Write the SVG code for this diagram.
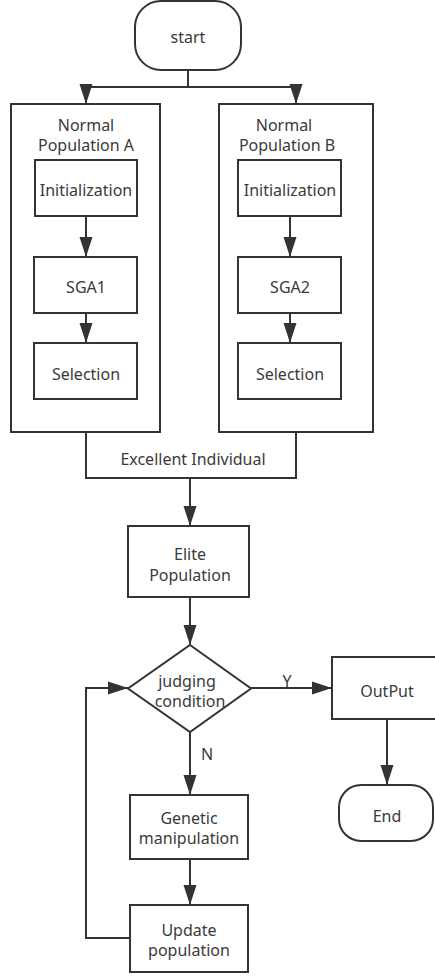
<svg xmlns="http://www.w3.org/2000/svg" width="435" height="978" viewBox="0 0 435 978">
<style>
.box{fill:#fff;stroke:#333;stroke-width:2}
.cn{fill:none;stroke:#333;stroke-width:2}
text{font-family:"Noto Sans","Open Sans","DejaVu Sans",sans-serif;font-size:16px;fill:#3a3a3a;text-anchor:middle}
</style>
<defs>
<marker id="ah" markerUnits="userSpaceOnUse" markerWidth="20" markerHeight="14" refX="20" refY="7" orient="auto">
<path d="M0,0.5 L20,7 L0,13.5 z" fill="#333"/>
</marker>
</defs>
<rect width="435" height="978" fill="#fff"/>
<g id="start">
<rect class="box" x="135" y="1" width="106" height="69" rx="26"/>
<text x="188" y="43">start</text>
</g>
<g id="popA">
<rect class="box" x="11" y="104" width="149" height="328"/>
<text x="86" y="131">Normal</text>
<text x="86" y="151">Population A</text>
</g>
<g id="popB">
<rect class="box" x="219" y="104" width="154" height="328"/>
<text x="284" y="131">Normal</text>
<text x="287" y="151">Population B</text>
</g>
<g id="initA">
<rect class="box" x="35" y="160" width="102" height="56"/>
<text x="86" y="196">Initialization</text>
</g>
<g id="initB">
<rect class="box" x="238" y="160" width="103" height="56"/>
<text x="290" y="196">Initialization</text>
</g>
<g id="sga1">
<rect class="box" x="34" y="257" width="103" height="56"/>
<text x="86" y="293">SGA1</text>
</g>
<g id="sga2">
<rect class="box" x="238" y="257" width="103" height="56"/>
<text x="290" y="293">SGA2</text>
</g>
<g id="selA">
<rect class="box" x="34" y="343" width="103" height="56"/>
<text x="86" y="380">Selection</text>
</g>
<g id="selB">
<rect class="box" x="238" y="343" width="103" height="56"/>
<text x="290" y="380">Selection</text>
</g>
<g id="excellent">
<text x="193" y="465">Excellent Individual</text>
</g>
<g id="elite">
<rect class="box" x="128" y="526" width="121" height="71"/>
<text x="190" y="560">Elite</text>
<text x="190" y="581">Population</text>
</g>
<g id="judge">
<polygon class="box" points="190,645 251,688.5 190,732 128,688.5"/>
<text x="187" y="687">judging</text>
<text x="190" y="707">condition</text>
</g>
<g id="output">
<rect class="box" x="332" y="657" width="110" height="62"/>
<text x="387" y="697">OutPut</text>
</g>
<g id="end">
<rect class="box" x="339" y="785" width="94" height="56" rx="22"/>
<text x="387" y="822">End</text>
</g>
<g id="genetic">
<rect class="box" x="130" y="795" width="118" height="64"/>
<text x="189" y="824">Genetic</text>
<text x="189" y="844">manipulation</text>
</g>
<g id="update">
<rect class="box" x="130" y="905" width="118" height="67"/>
<text x="189" y="936">Update</text>
<text x="189" y="956">population</text>
</g>
<g id="connectors">
<path class="cn" d="M188,70 V87 M86,87 H296"/>
<path class="cn" d="M86,87 V104" marker-end="url(#ah)"/>
<path class="cn" d="M296,87 V104" marker-end="url(#ah)"/>
<path class="cn" d="M86,216 V257" marker-end="url(#ah)"/>
<path class="cn" d="M290,216 V257" marker-end="url(#ah)"/>
<path class="cn" d="M86,313 V343" marker-end="url(#ah)"/>
<path class="cn" d="M290,313 V343" marker-end="url(#ah)"/>
<path class="cn" d="M86,432 V478 H296 V432"/>
<path class="cn" d="M190,478 V526" marker-end="url(#ah)"/>
<path class="cn" d="M190,597 V645" marker-end="url(#ah)"/>
<path class="cn" d="M251,688 H332" marker-end="url(#ah)"/>
<path class="cn" d="M387,719 V785" marker-end="url(#ah)"/>
<path class="cn" d="M190,732 V795" marker-end="url(#ah)"/>
<path class="cn" d="M190,859 V905" marker-end="url(#ah)"/>
<path class="cn" d="M130,938 H86 V688 H128" marker-end="url(#ah)"/>
<text x="287" y="687">Y</text>
<text x="207" y="760">N</text>
</g>
</svg>
